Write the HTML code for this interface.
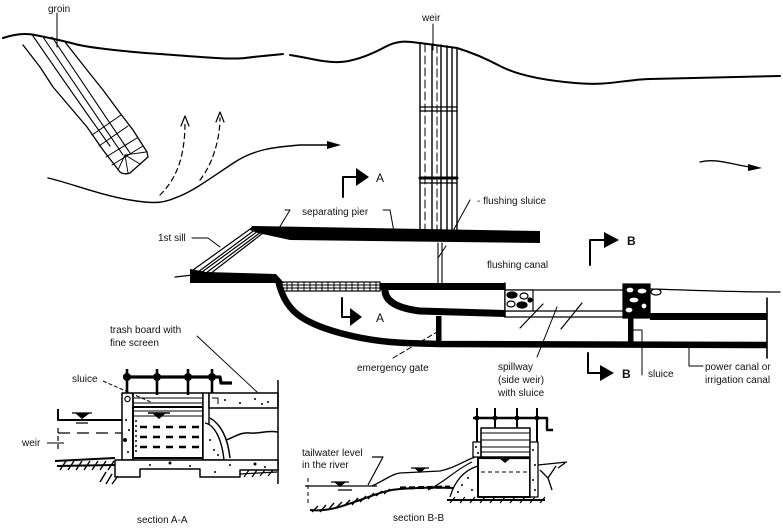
<!DOCTYPE html>
<html><head><meta charset="utf-8"><style>
html,body{margin:0;padding:0;background:#fff;}
svg{display:block;}
text{font-family:"Liberation Sans",sans-serif;font-size:10px;fill:#111;}
</style></head><body>
<svg width="783" height="528" viewBox="0 0 783 528" xmlns="http://www.w3.org/2000/svg">
<rect width="783" height="528" fill="#fff"/>
<g fill="none" stroke="#000" stroke-linecap="round" stroke-linejoin="round">
<!-- top bank -->
<path d="M3,38 C15,34 25,33 35,35 S60,40 75,44 S130,52 160,54 S230,60 245,58 S275,55 283,54" stroke-width="2"/>
<path d="M290,55 C310,58 325,63 340,62 S370,55 385,47 S410,42 420,43 L457,48 C470,52 485,58 500,66 S540,80 575,83 S620,80 650,79 L780,76" stroke-width="2"/>
<!-- lower bank / flow -->
<path d="M48,178 C70,183 100,195 130,200 S165,202 180,196 S215,175 235,162 S275,147 300,145 L330,145" stroke-width="1.4"/>
<!-- dashed flow arrows -->
<path d="M160,195 C175,180 185,160 185,122" stroke-width="1.2" stroke-dasharray="5,4"/>
<path d="M181,126 L185,116 L189,126" stroke-width="1.2"/>
<path d="M200,180 C212,165 220,140 220,118" stroke-width="1.2" stroke-dasharray="5,4"/>
<path d="M216,122 L220,112 L224,122" stroke-width="1.2"/>
<!-- right flow arrow -->
<path d="M700,162 C715,158 730,164 750,167" stroke-width="1.3"/>
<!-- groin -->
<path d="M23,45 L40,67 L53,87 L70,107 L87,127 L103,150 L120,172 Q124,175 130,173 L148,157 L147,152 L133,130 L120,113 L103,90 L87,70 L65,42" stroke-width="1.3"/>
<path d="M33,36 L62,78 L90,118 L110,146" stroke-width="1.1"/>
<path d="M43,37 L123,155" stroke-width="1.1"/>
<path d="M52,37 L130,153" stroke-width="1.1"/>
<path d="M92,135 L121,115 M99,146 L128,126 M106,157 L137,138 M112,165 L143,146" stroke-width="1"/>
<path d="M125,155 L118,170 M125,155 L128,173 M125,155 L140,164 M125,155 L146,152" stroke-width="0.9"/>
<path d="M57,13 L57,47" stroke-width="1"/>
<!-- weir -->
<path d="M420,43 L420,230 M432,44 L432,230 M441,45 L441,230 M447,46 L447,230 M452,47 L452,230 M457,48 L457,230" stroke-width="1.4"/>
<path d="M425,44 L425,230 M437,45 L437,230" stroke-width="1" stroke-dasharray="8,4"/>
<path d="M420,107 L457,107 M420,111 L457,111" stroke-width="1.3"/>
<path d="M420,178 L457,178" stroke-width="3"/>
<path d="M420,183 L457,183" stroke-width="1.2"/>
<path d="M433,24 L433,50" stroke-width="1"/>
<!-- flushing sluice lines below pier -->
<path d="M438,243 L438,283 M442,243 L442,283" stroke-width="1.1"/>
<path d="M438,258 L446,246" stroke-width="1"/>
<path d="M470,200 L453,231" stroke-width="1"/>
<!-- separating pier leaders -->
<path d="M285,210 L290,210 L279,228" stroke-width="1"/>
<path d="M383,210 L390,210 L394,232" stroke-width="1"/>
<!-- 1st sill -->
<path d="M192,238 L208,238 L220,247" stroke-width="1"/>
<path d="M193,270 L253,227 M198,272 L256,229 M202,272 L258,231 M206,273 L261,232 M210,274 L263,233" stroke-width="1.2"/>
<path d="M175,277 L193,275" stroke-width="1.2"/>
<!-- outer curved wall -->
<path d="M278,280 C285,310 300,322 340,333 S410,343 440,344 L767,345" stroke-width="6.5" stroke-linecap="butt"/>
<!-- island -->
<path d="M380,286.5 L505,286.5" stroke-width="7" stroke-linecap="butt"/>
<path d="M385,288 C384,300 395,308 420,311 L505,313.5" stroke-width="7" stroke-linecap="butt"/>
<path d="M505,283 L505,317" stroke-width="1.5"/>
<!-- spillway lines -->
<path d="M505,290 L625,290 M505,311 L625,311 M505,317 L628,317" stroke-width="1.2"/>
<!-- power canal top thin line -->
<path d="M650,289 C690,290 730,292 780,292" stroke-width="1.2"/>
<path d="M767,298 L767,358" stroke-width="1.6"/>
<!-- spillway arrows -->
<path d="M520,328 L543,304 M561,329 L582,303" stroke-width="1.2"/>
<path d="M537,357 L557,307" stroke-width="1"/>
<!-- emergency gate leader -->
<path d="M393,358 L437,332" stroke-width="1" stroke-dasharray="5,3"/>
<!-- sluice leader -->
<path d="M633,330 L642,330 L642,375" stroke-width="1"/>
<!-- power canal leader -->
<path d="M703,366 L689,366 L689,345" stroke-width="1"/>
<!-- A/B markers -->
<path d="M343,197 L343,177 L357,177" stroke-width="2"/>
<path d="M342,298 L342,317 L352,317" stroke-width="2"/>
<path d="M590,265 L590,240 L606,240" stroke-width="2"/>
<path d="M588,353 L588,373 L602,373" stroke-width="2"/>
<!-- trash board leader -->
<path d="M197,336 L257,392" stroke-width="0.9"/>
</g>
<g fill="#000">
<polygon points="327,141 341,145 327,149"/>
<polygon points="748,164 762,168 748,171"/>
<polygon points="252,226 540,231 540,243 290,240 258,233 250,230"/>
<polygon points="190,269 206,272 276,274 284,283 190,283"/>
<rect x="436" y="316" width="5.5" height="28"/>
<rect x="628" y="317" width="5.5" height="27"/>
<rect x="650" y="313" width="117" height="7"/>
<polygon points="356,168 356,186 369,177"/>
<polygon points="350,308 350,326 362,317"/>
<polygon points="604,232 604,248 619,240"/>
<polygon points="600,365 600,381 614,373"/>
</g>
<!-- trash rack -->
<g stroke="#000" fill="none">
<rect x="282" y="282" width="98" height="9" stroke-width="1.2"/>
<path d="M282,285 L380,285 M282,288 L380,288" stroke-width="1"/>
<path d="M287,282v9M292,282v9M298,282v9M304,282v9M310,282v9M316,282v9M322,282v9M328,282v9M334,282v9M340,282v9M346,282v9M352,282v9M358,282v9M364,282v9M370,282v9M376,282v9" stroke-width="1"/>
</g>
<!-- gravel blocks -->
<g stroke="#000" stroke-width="1.2">
<rect x="505" y="290" width="28" height="21" fill="#fff"/>
<ellipse cx="512" cy="295" rx="5" ry="3" fill="#000"/>
<ellipse cx="524" cy="296" rx="4" ry="3" fill="#fff"/>
<ellipse cx="511" cy="304" rx="4" ry="3" fill="#fff"/>
<ellipse cx="522" cy="305" rx="5" ry="3" fill="#000"/>
<ellipse cx="530" cy="300" rx="2" ry="2" fill="#000"/>
<rect x="623" y="284" width="27" height="34" fill="#000"/>
<ellipse cx="630" cy="290" rx="4" ry="3" fill="#fff"/>
<ellipse cx="642" cy="291" rx="5" ry="3" fill="#fff"/>
<ellipse cx="634" cy="300" rx="5" ry="3" fill="#fff"/>
<ellipse cx="629" cy="310" rx="4" ry="3" fill="#fff"/>
<ellipse cx="644" cy="306" rx="3" ry="3" fill="#fff"/>
<ellipse cx="656" cy="292" rx="5" ry="3" fill="#fff"/>
</g>
<!-- SECTION A-A -->
<g stroke="#000" fill="none" stroke-linejoin="round">
<path d="M123,377 L220,377 L221,383 L232,383" stroke-width="3.2"/>
<path d="M127,369 L127,395 M157,369 L157,395 M188,369 L188,395 M212,369 L212,395" stroke-width="2.6"/>
<rect x="122" y="393" width="11" height="67" stroke-width="1.5" fill="#fff"/>
<circle cx="127.5" cy="399" r="2.6" stroke-width="1.2"/>
<rect x="133" y="393" width="70" height="14" stroke-width="1.5"/>
<path d="M133,398 L203,398 M133,403 L203,403" stroke-width="0.9"/>
<path d="M103,381 L153,403" stroke-width="1" stroke-dasharray="4,2"/>
<rect x="133" y="407" width="70" height="51" stroke-width="2"/>
<path d="M133,411 L203,411 M133,416 L203,416" stroke-width="0.9"/>
<path d="M148,413 L170,413" stroke-width="1.4"/>
<path d="M140,427 L200,427 M140,437 L200,437 M140,447 L200,447" stroke-width="2.4" stroke-dasharray="7,6"/>
<path d="M136,420 L136,455" stroke-width="1.5" stroke-dasharray="2,3"/>
<rect x="203" y="393" width="6" height="77" stroke-width="1.4" fill="#fff"/>
<rect x="209" y="393" width="69" height="15" stroke-width="1.5" fill="#fff"/>
<path d="M212,398 L218,398 L218,404" stroke-width="1"/>
<path d="M278,380 L278,484" stroke-width="1.5"/>
<path d="M205,423 C215,425 222,440 224,460 L205,460" stroke-width="1.4" fill="#fff"/>
<path d="M210,418 C222,425 228,440 230,458" stroke-width="1.5"/>
<path d="M226,440 C235,437 240,432 250,433 S265,430 278,432" stroke-width="1.5"/>
<path d="M115,460 L278,460 L278,470 L240,470 L240,477 L200,477 L200,469 L140,469 L140,477 L115,477 Z" stroke-width="1.5" fill="#fff"/>
<path d="M58,409 L58,420 L122,420" stroke-width="2"/>
<path d="M72,413 L92,413 M76,423 L88,423" stroke-width="1.3"/>
<path d="M58,433 L122,433" stroke-width="1.3" stroke-dasharray="12,7"/>
<path d="M58,428 L58,452" stroke-width="1.2" stroke-dasharray="5,3"/>
<path d="M47,443 L64,443" stroke-width="1"/>
<path d="M55,461 L115,458 M57,466 L115,465" stroke-width="2"/>
<path d="M60,470 L66,461 M68,470 L74,461 M76,470 L82,461 M84,470 L90,461 M92,470 L98,461 M100,470 L106,461 M108,470 L114,461 M100,482 L106,472 M106,484 L112,474 M112,484 L118,476" stroke-width="1.4"/>
<path d="M240,474 L277,472 M244,477 L249,470 M252,477 L257,470 M260,476 L265,470 M268,476 L273,470" stroke-width="1.2"/>
</g>
<g fill="#000">
<circle cx="127" cy="377" r="4"/><circle cx="157" cy="377" r="4"/><circle cx="188" cy="377" r="4"/><circle cx="212" cy="377" r="4"/>
<polygon points="152,413 166,413 159,419"/>
<polygon points="75,413 90,413 82,419"/>
<circle cx="126" cy="420" r="1"/><circle cx="129" cy="430" r="1"/><circle cx="125" cy="440" r="2"/><circle cx="128" cy="452" r="1"/>
<circle cx="150" cy="465" r="1"/><circle cx="170" cy="463" r="1.5"/><circle cx="190" cy="466" r="1"/><circle cx="230" cy="465" r="1"/><circle cx="255" cy="464" r="1.5"/><circle cx="265" cy="467" r="1"/><circle cx="215" cy="472" r="1"/>
<circle cx="225" cy="400" r="1"/><circle cx="240" cy="403" r="1"/><circle cx="255" cy="399" r="1"/><circle cx="268" cy="402" r="1"/><circle cx="262" cy="404" r="1"/>
<circle cx="210" cy="440" r="1"/><circle cx="214" cy="450" r="1"/><circle cx="218" cy="455" r="1"/>
</g>
<!-- SECTION B-B -->
<g stroke="#000" fill="none" stroke-linejoin="round">
<path d="M308,478 L308,503" stroke-width="1" stroke-dasharray="4,3"/>
<path d="M305,486 L377,486" stroke-width="1.3"/>
<path d="M331,482 L349,482 M338,490 L352,490" stroke-width="1.2"/>
<path d="M372,457 L383,457 L368,485" stroke-width="1.2"/>
<path d="M310,510 C330,512 345,505 360,500 S385,490 400,489 S430,487 455,488" stroke-width="2"/>
<path d="M312,512 L318,506 M320,512 L326,505 M328,510 L334,503 M336,508 L342,502 M344,506 L350,500 M352,505 L358,498 M360,502 L366,496 M368,499 L374,493 M376,496 L382,491 M384,494 L390,489" stroke-width="1.4"/>
<path d="M400,488 L450,487" stroke-width="3" stroke-dasharray="6,3"/>
<path d="M372,486 C385,480 392,474 400,473 L440,471 C455,468 465,460 478,456" stroke-width="1.3"/>
<path d="M411,468 L429,468" stroke-width="1.3"/>
<path d="M428,490 C445,482 455,470 472,462" stroke-width="1.2"/>
<path d="M450,497 C455,480 465,470 478,466 L478,497" stroke-width="1.3" fill="#fff"/>
<path d="M473,418 L547,418 L547,430 L553,430" stroke-width="2.4"/>
<path d="M477,408 L477,442 M495,408 L495,428 M517,408 L517,428 M537,408 L537,442" stroke-width="2"/>
<rect x="473" y="442" width="8" height="15" stroke-width="1.3" fill="#fff"/>
<rect x="481" y="428" width="49" height="29" stroke-width="1.5"/>
<path d="M481,433 L530,433 M481,440 L530,440 M481,447 L530,447 M481,452 L530,452" stroke-width="0.9"/>
<path d="M481,458 L530,458" stroke-width="2.2"/>
<rect x="478" y="458" width="52" height="39" stroke-width="2"/>
<path d="M481,472 L528,472" stroke-width="1" stroke-dasharray="4,3"/>
<rect x="530" y="442" width="8" height="55" stroke-width="1.3" fill="#fff"/>
<path d="M538,465 L567,462 M540,470 L548,478 L556,466 M548,478 L552,490 M558,468 L565,463" stroke-width="1.3"/>
<path d="M447,500 L545,500" stroke-width="2"/>
<path d="M450,503 L455,497 M460,503 L465,497 M470,503 L475,497 M480,503 L485,497 M490,503 L495,497 M500,503 L505,497 M510,503 L515,497 M520,503 L525,497 M530,503 L535,497 M540,503 L545,497" stroke-width="1.2"/>
</g>
<g fill="#000">
<polygon points="334,482 346,482 340,487"/>
<polygon points="414,468 426,468 420,473"/>
<polygon points="499,458 511,458 505,463"/>
<circle cx="477" cy="418" r="2.5"/><circle cx="495" cy="418" r="2.5"/><circle cx="517" cy="418" r="2.5"/><circle cx="537" cy="418" r="2.5"/>
<circle cx="476" cy="447" r="1"/><circle cx="478" cy="453" r="1"/><circle cx="533" cy="450" r="1"/><circle cx="535" cy="465" r="1"/><circle cx="533" cy="480" r="1"/><circle cx="535" cy="490" r="1"/>
<circle cx="462" cy="485" r="1"/><circle cx="468" cy="478" r="1"/><circle cx="472" cy="490" r="1"/><circle cx="458" cy="492" r="1"/>
</g>
<!-- labels -->
<text x="48" y="12">groin</text>
<text x="422" y="21">weir</text>
<text x="477" y="204">- flushing sluice</text>
<text x="302" y="215">separating pier</text>
<text x="158" y="241">1st sill</text>
<text x="487" y="268">flushing canal</text>
<text x="357" y="371">emergency gate</text>
<text x="498" y="370">spillway</text>
<text x="498" y="383">(side weir)</text>
<text x="498" y="396">with sluice</text>
<text x="648" y="377">sluice</text>
<text x="705" y="370">power canal or</text>
<text x="705" y="383">irrigation canal</text>
<text x="110" y="333">trash board with</text>
<text x="110" y="346">fine screen</text>
<text x="72" y="382">sluice</text>
<text x="22" y="446">weir</text>
<text x="137" y="523">section A-A</text>
<text x="302" y="456">tailwater level</text>
<text x="302" y="468">in the river</text>
<text x="393" y="521">section B-B</text>
<text x="376" y="182" style="font-size:12px">A</text>
<text x="376" y="322" style="font-size:12px">A</text>
<text x="627" y="245" style="font-size:12px;font-weight:bold">B</text>
<text x="622" y="378" style="font-size:12px;font-weight:bold">B</text>
</svg>
</body></html>
